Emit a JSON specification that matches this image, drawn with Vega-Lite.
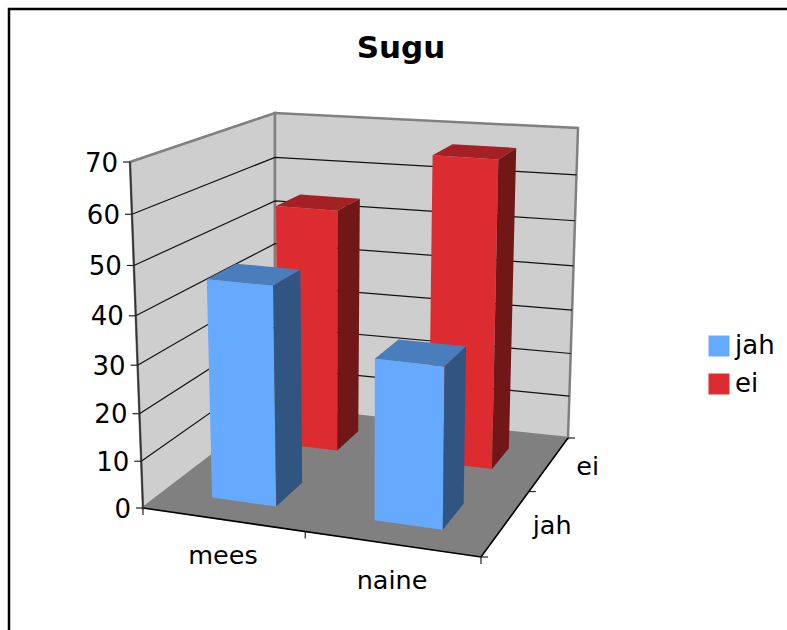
{
"$schema":"https://vega.github.io/schema/vega-lite/v6.json",
"autosize":"none","padding":{"left":9,"top":9,"right":0,"bottom":0},
"width":800,"height":650,"background":"white",
"view":{"stroke":"#000000","strokeWidth":2.5,"fill":"white"},
"config":{"font":"DejaVu Sans"},
"title":{"text":"Sugu","font":"DejaVu Sans","fontSize":31,"fontWeight":"bold","color":"#000000","anchor":"middle","frame":"group","dx":-8,"offset":-80,"baseline":"alphabetic"},
"datasets":{
"vastused":[{"sugu":"mees","vastus":"ei","vaartus":54},{"sugu":"naine","vastus":"ei","vaartus":67},{"sugu":"mees","vastus":"jah","vaartus":46},{"sugu":"naine","vastus":"jah","vaartus":33.5}],
"pinnad":[{"pind":"vasak sein"},{"pind":"tagasein"},{"pind":"pohi"}],
"skaala":[{"vaartus":0},{"vaartus":10},{"vaartus":20},{"vaartus":30},{"vaartus":40},{"vaartus":50},{"vaartus":60},{"vaartus":70}],
"jaotus":[{"jaotis":0},{"jaotis":1},{"jaotis":2}],
"sildid":[{"telg":"sugu","silt":"mees"},{"telg":"sugu","silt":"naine"},{"telg":"vastus","silt":"jah"},{"telg":"vastus","silt":"ei"}]
},
"encoding":{
"x":{"field":"px","type":"quantitative","scale":{"domain":[9,809],"nice":false,"zero":false},"axis":null},
"y":{"field":"py","type":"quantitative","scale":{"domain":[659,9],"nice":false,"zero":false},"axis":null}
},
"resolve":{"scale":{"fill":"independent"}},
"layer":[
{"data":{"name":"pinnad"},
"transform":[{"filter":"datum.pind!='pohi'"},{"calculate":"[0,1,2,3]","as":"nurk"},{"flatten":["nurk"]},
{"calculate":"datum.nurk==1||datum.nurk==2?1:0","as":"a"},{"calculate":"datum.nurk>=2?1:0","as":"b"},
{"calculate":"datum.pind=='tagasein'?datum.a:0","as":"U"},{"calculate":"datum.pind=='tagasein'?1:datum.a","as":"V"},{"calculate":"datum.b","as":"H"},
{"calculate":"(143+338*datum.U+132*datum.V-45*datum.U*datum.V)*(1-datum.H)+(130+357*datum.U+145*datum.V-54*datum.U*datum.V)*datum.H","as":"px"},
{"calculate":"(508+49*datum.U-101*datum.V-18*datum.U*datum.V)*(1-datum.H)+(162+30*datum.U-49*datum.V-15*datum.U*datum.V)*datum.H","as":"py"}],
"mark":{"type":"line","fill":"#CECECE","stroke":"#808080","strokeWidth":2.5,"strokeJoin":"miter","interpolate":"linear-closed"},
"encoding":{"detail":{"field":"pind"},"order":{"field":"nurk"}}},
{"data":{"name":"skaala"},
"transform":[{"filter":"datum.vaartus>0&&datum.vaartus<70"},{"calculate":"[0,1,2]","as":"punkt"},{"flatten":["punkt"]},
{"calculate":"datum.punkt==2?1:0","as":"U"},{"calculate":"datum.punkt>=1?1:0","as":"V"},{"calculate":"(datum.vaartus/70)/(1+0.067*(1-datum.vaartus/70))","as":"H"},
{"calculate":"(143+338*datum.U+132*datum.V-45*datum.U*datum.V)*(1-datum.H)+(130+357*datum.U+145*datum.V-54*datum.U*datum.V)*datum.H","as":"px"},
{"calculate":"(508+49*datum.U-101*datum.V-18*datum.U*datum.V)*(1-datum.H)+(162+30*datum.U-49*datum.V-15*datum.U*datum.V)*datum.H","as":"py"}],
"mark":{"type":"line","stroke":"#111111","strokeWidth":1.2},
"encoding":{"detail":{"field":"vaartus"},"order":{"field":"punkt"}}},
{"data":{"name":"pinnad"},
"transform":[{"filter":"datum.pind=='pohi'"},{"calculate":"[0,1,2,3]","as":"nurk"},{"flatten":["nurk"]},
{"calculate":"datum.nurk==1||datum.nurk==2?1:0","as":"U"},{"calculate":"datum.nurk>=2?1:0","as":"V"},{"calculate":"0","as":"H"},
{"calculate":"(143+338*datum.U+132*datum.V-45*datum.U*datum.V)*(1-datum.H)+(130+357*datum.U+145*datum.V-54*datum.U*datum.V)*datum.H","as":"px"},
{"calculate":"(508+49*datum.U-101*datum.V-18*datum.U*datum.V)*(1-datum.H)+(162+30*datum.U-49*datum.V-15*datum.U*datum.V)*datum.H","as":"py"}],
"mark":{"type":"line","fill":"#808080","stroke":"#808080","strokeWidth":0.5,"interpolate":"linear-closed"},
"encoding":{"order":{"field":"nurk"}}},
{"data":{"name":"pinnad"},
"transform":[{"filter":"datum.pind=='pohi'"},{"calculate":"[0,1,2]","as":"nurk"},{"flatten":["nurk"]},
{"calculate":"datum.nurk>=1?1:0","as":"U"},{"calculate":"datum.nurk==2?1:0","as":"V"},{"calculate":"0","as":"H"},
{"calculate":"(143+338*datum.U+132*datum.V-45*datum.U*datum.V)*(1-datum.H)+(130+357*datum.U+145*datum.V-54*datum.U*datum.V)*datum.H","as":"px"},
{"calculate":"(508+49*datum.U-101*datum.V-18*datum.U*datum.V)*(1-datum.H)+(162+30*datum.U-49*datum.V-15*datum.U*datum.V)*datum.H","as":"py"}],
"mark":{"type":"line","stroke":"#000000","strokeWidth":1.6},
"encoding":{"order":{"field":"nurk"}}},
{"data":{"name":"skaala"},
"transform":[{"filter":"datum.vaartus==0||datum.vaartus==70"},{"calculate":"0","as":"U"},{"calculate":"0","as":"V"},{"calculate":"datum.vaartus/70","as":"H"},
{"calculate":"(143+338*datum.U+132*datum.V-45*datum.U*datum.V)*(1-datum.H)+(130+357*datum.U+145*datum.V-54*datum.U*datum.V)*datum.H","as":"px"},
{"calculate":"(508+49*datum.U-101*datum.V-18*datum.U*datum.V)*(1-datum.H)+(162+30*datum.U-49*datum.V-15*datum.U*datum.V)*datum.H","as":"py"}],
"mark":{"type":"line","stroke":"#333333","strokeWidth":1.6},
"encoding":{"order":{"field":"vaartus"}}},
{"data":{"name":"skaala"},
"transform":[{"calculate":"0","as":"U"},{"calculate":"0","as":"V"},{"calculate":"(datum.vaartus/70)/(1+0.067*(1-datum.vaartus/70))","as":"H"},
{"calculate":"(143+338*datum.U+132*datum.V-45*datum.U*datum.V)*(1-datum.H)+(130+357*datum.U+145*datum.V-54*datum.U*datum.V)*datum.H","as":"px"},
{"calculate":"(508+49*datum.U-101*datum.V-18*datum.U*datum.V)*(1-datum.H)+(162+30*datum.U-49*datum.V-15*datum.U*datum.V)*datum.H","as":"py"},
{"calculate":"datum.px-7","as":"px2"}],
"layer":[
{"mark":{"type":"rule","stroke":"#222222","strokeWidth":1.2},"encoding":{"x2":{"field":"px2"}}},
{"mark":{"type":"text","align":"right","baseline":"middle","dx":-12,"dy":1.5,"fontSize":26,"font":"DejaVu Sans","fill":"#000000"},"encoding":{"text":{"field":"vaartus","type":"quantitative"}}}
]},
{"data":{"name":"jaotus"},
"transform":[{"calculate":"datum.jaotis==1?0.48:datum.jaotis/2","as":"U"},{"calculate":"0","as":"V"},{"calculate":"0","as":"H"},
{"calculate":"(143+338*datum.U+132*datum.V-45*datum.U*datum.V)*(1-datum.H)+(130+357*datum.U+145*datum.V-54*datum.U*datum.V)*datum.H","as":"px"},
{"calculate":"(508+49*datum.U-101*datum.V-18*datum.U*datum.V)*(1-datum.H)+(162+30*datum.U-49*datum.V-15*datum.U*datum.V)*datum.H","as":"py"},
{"calculate":"datum.py+7","as":"py2"}],
"mark":{"type":"rule","stroke":"#222222","strokeWidth":1.2},"encoding":{"y2":{"field":"py2"}}},
{"data":{"name":"jaotus"},
"transform":[{"calculate":"1","as":"U"},{"calculate":"datum.jaotis==1?0.55:datum.jaotis/2","as":"V"},{"calculate":"0","as":"H"},
{"calculate":"(143+338*datum.U+132*datum.V-45*datum.U*datum.V)*(1-datum.H)+(130+357*datum.U+145*datum.V-54*datum.U*datum.V)*datum.H","as":"px"},
{"calculate":"(508+49*datum.U-101*datum.V-18*datum.U*datum.V)*(1-datum.H)+(162+30*datum.U-49*datum.V-15*datum.U*datum.V)*datum.H","as":"py"},
{"calculate":"datum.px+7","as":"px2"}],
"mark":{"type":"rule","stroke":"#222222","strokeWidth":1.2},"encoding":{"x2":{"field":"px2"}}},
{"data":{"name":"vastused"},
"transform":[
{"calculate":"datum.sugu=='mees'?0.142:0.634","as":"u0"},{"calculate":"datum.sugu=='mees'?0.336:0.84","as":"u1"},
{"calculate":"datum.vastus=='jah'?0.168:0.69","as":"v0"},{"calculate":"datum.vastus=='jah'?0.39:0.87","as":"v1"},
{"calculate":"(datum.vaartus/70)/(1+0.067*(1-datum.vaartus/70))","as":"h"},
{"calculate":"['esi','pealis','kulg']","as":"tahk"},{"flatten":["tahk"]},
{"calculate":"[0,1,2,3]","as":"nurk"},{"flatten":["nurk"]},
{"calculate":"datum.tahk=='kulg'?datum.u1:((datum.nurk==0||datum.nurk==3)?datum.u0:datum.u1)","as":"U"},
{"calculate":"datum.tahk=='esi'?datum.v0:(datum.tahk=='pealis'?(datum.nurk<2?datum.v0:datum.v1):((datum.nurk==0||datum.nurk==3)?datum.v0:datum.v1))","as":"V"},
{"calculate":"datum.tahk=='pealis'?datum.h:(datum.nurk<2?0:datum.h)","as":"H"},
{"calculate":"datum.tahk=='esi'?datum.vastus:datum.vastus+' '+datum.tahk","as":"toon"},
{"calculate":"datum.sugu+' '+datum.vastus+' '+datum.tahk","as":"tahu_id"},
{"calculate":"(143+338*datum.U+132*datum.V-45*datum.U*datum.V)*(1-datum.H)+(130+357*datum.U+145*datum.V-54*datum.U*datum.V)*datum.H","as":"px"},
{"calculate":"(508+49*datum.U-101*datum.V-18*datum.U*datum.V)*(1-datum.H)+(162+30*datum.U-49*datum.V-15*datum.U*datum.V)*datum.H","as":"py"}],
"mark":{"type":"line","strokeWidth":0,"interpolate":"linear-closed"},
"encoding":{
"fill":{"field":"toon","type":"nominal",
"scale":{"domain":["jah","ei","jah pealis","jah kulg","ei pealis","ei kulg"],"range":["#66AAFF","#DD2C2F","#4A7DBB","#305580","#A52025","#721718"]},
"legend":{"title":null,"values":["jah","ei"],"orient":"none","legendX":697,"legendY":324,"symbolType":"square","symbolSize":441,"symbolStrokeWidth":0,"labelFontSize":26,"labelFont":"DejaVu Sans","labelColor":"#000000","labelOffset":3,"rowPadding":12}},
"detail":{"field":"tahu_id"},"order":{"field":"nurk"}}},
{"data":{"name":"sildid"},
"transform":[{"filter":"datum.telg=='sugu'"},{"calculate":"datum.silt=='mees'?0.25:0.75","as":"U"},{"calculate":"0","as":"V"},{"calculate":"0","as":"H"},
{"calculate":"(143+338*datum.U+132*datum.V-45*datum.U*datum.V)*(1-datum.H)+(130+357*datum.U+145*datum.V-54*datum.U*datum.V)*datum.H","as":"px"},
{"calculate":"(508+49*datum.U-101*datum.V-18*datum.U*datum.V)*(1-datum.H)+(162+30*datum.U-49*datum.V-15*datum.U*datum.V)*datum.H","as":"py"}],
"mark":{"type":"text","align":"center","baseline":"middle","dx":-4.5,"dy":36,"fontSize":25.5,"font":"DejaVu Sans","fill":"#000000"},"encoding":{"text":{"field":"silt"}}},
{"data":{"name":"sildid"},
"transform":[{"filter":"datum.telg=='vastus'"},{"calculate":"1","as":"U"},{"calculate":"datum.silt=='jah'?0.25:0.75","as":"V"},{"calculate":"0","as":"H"},
{"calculate":"(143+338*datum.U+132*datum.V-45*datum.U*datum.V)*(1-datum.H)+(130+357*datum.U+145*datum.V-54*datum.U*datum.V)*datum.H","as":"px"},
{"calculate":"(508+49*datum.U-101*datum.V-18*datum.U*datum.V)*(1-datum.H)+(162+30*datum.U-49*datum.V-15*datum.U*datum.V)*datum.H","as":"py"}],
"mark":{"type":"text","align":"left","baseline":"middle","dx":30,"dy":-1,"fontSize":25.5,"font":"DejaVu Sans","fill":"#000000"},"encoding":{"text":{"field":"silt"}}}
]
}
